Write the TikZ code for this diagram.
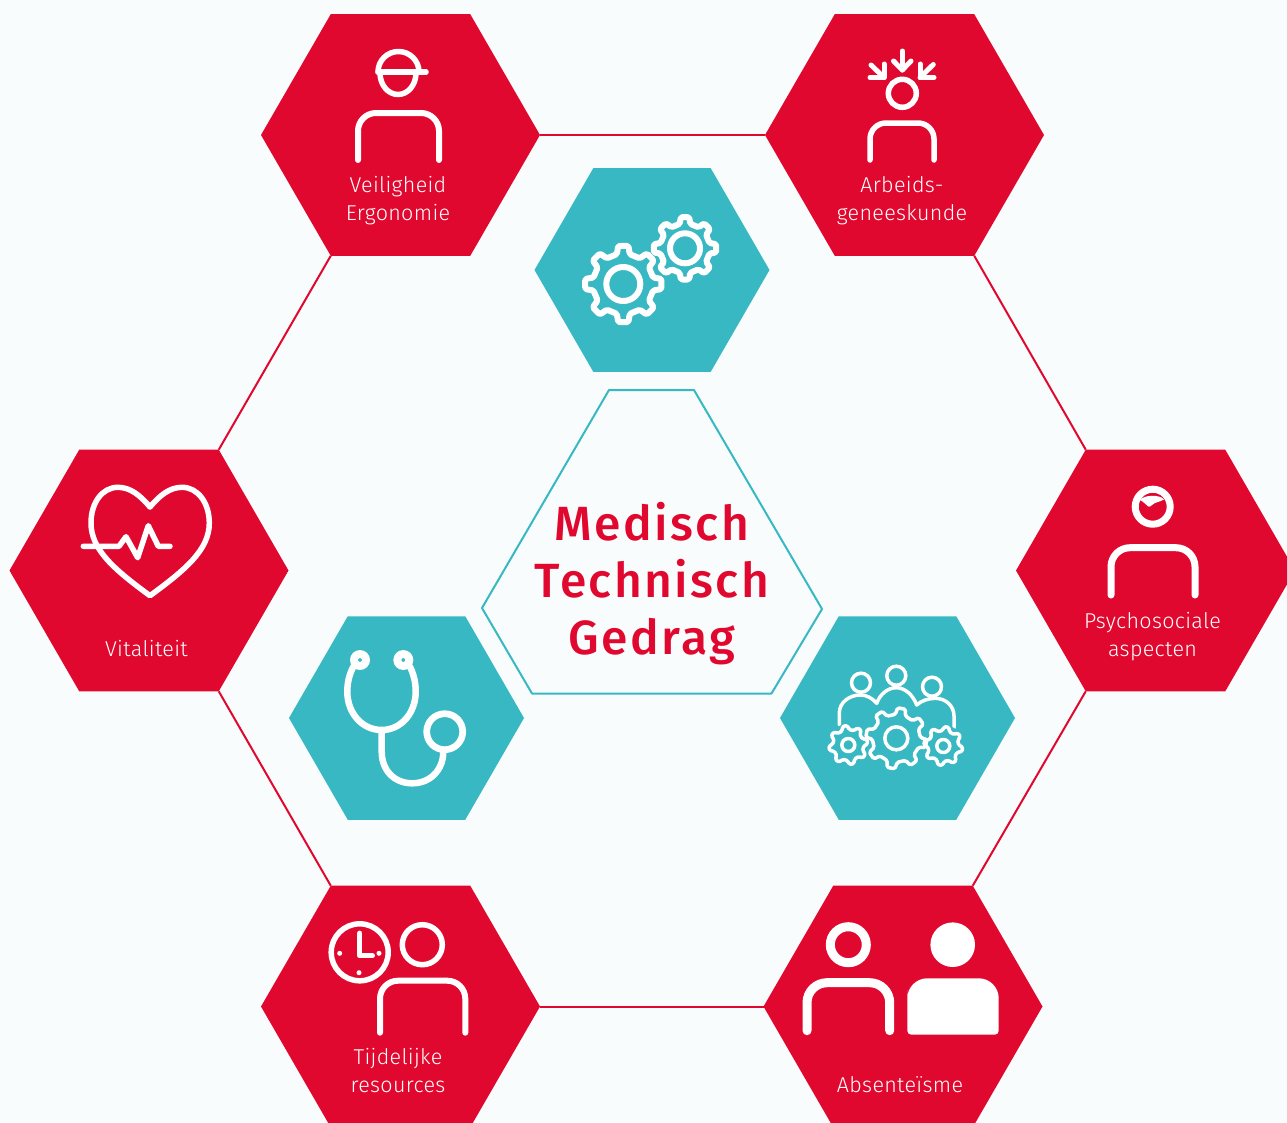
\documentclass[tikz,border=0pt]{standalone}
\usepackage{fontspec}
\setmainfont{Fira Sans}[UprightFont={* Light},LetterSpace=1.5]
\newfontfamily\ttlfont{Fira Sans}[UprightFont={* Medium},LetterSpace=5]
\usetikzlibrary{shapes.geometric}
\definecolor{bgc}{HTML}{F8FCFD}
\definecolor{redc}{HTML}{E1082F}
\definecolor{tealc}{HTML}{38B8C2}
\tikzset{
  hexa/.style={regular polygon,regular polygon sides=6,inner sep=0pt,outer sep=0pt,draw=none},
  redhex/.style={hexa,fill=redc,minimum size=279pt},
  tealhex/.style={hexa,fill=tealc,minimum size=235pt},
  link/.style={draw=redc,line width=2pt},
  ic/.style={draw=white,line cap=round,line join=round,line width=#1pt},
  ic/.default=5,
  lab/.style={text=white,font=\fontsize{21.5}{28}\selectfont,align=center,inner sep=0pt},
  title/.style={text=redc,font=\ttlfont\fontsize{48}{57.2}\selectfont,align=center,inner sep=0pt}
}
\newcommand{\torso}[6]{% x1 x2 top bottom radius lw
  \draw[ic=#6] (#1,#4) [rounded corners=#5pt] -- (#1,#3) -- (#2,#3) [sharp corners] -- (#2,#4);}
\newcommand{\cogwheel}[8]{% cx cy Ro Ri n hole lw rot
  \begin{scope}[shift={(#1,#2)}]
    \pgfmathsetmacro{\st}{360/#5}
    \draw[ic=#7,rounded corners=1.6pt]
      \foreach \i in {1,...,#5}{
        \ifnum\i=1 (#8+\i*\st-0.27*\st:#4pt) \else -- (#8+\i*\st-0.27*\st:#4pt) \fi
        -- (#8+\i*\st-0.17*\st:#3pt) -- (#8+\i*\st+0.17*\st:#3pt) -- (#8+\i*\st+0.27*\st:#4pt)
      } -- cycle;
    \draw[ic=#7] (0,0) circle[radius=#6pt];
  \end{scope}}
\begin{document}
\begin{tikzpicture}[x=1pt,y=-1pt]
\path[use as bounding box,fill=bgc] (0,0) rectangle (1287,1122);
\clip (0,0) rectangle (1287,1122);
% hexagons
\node[redhex] (vei) at (400.5,135) {};
\node[redhex] (arb) at (904.5,135) {};
\node[redhex] (vit) at (149,570.5) {};
\node[redhex] (psy) at (1155.5,570.5) {};
\node[redhex] (tij) at (400.5,1006.5) {};
\node[redhex] (abs) at (903,1006.5) {};
\node[tealhex] (gea) at (652,270) {};
\node[tealhex] (ste) at (406.5,718) {};
\node[tealhex] (peo) at (897.5,718) {};
% connectors
\draw[link] (vei.corner 6) -- (arb.corner 3);
\draw[link] (vei.corner 4) -- (vit.corner 1);
\draw[link] (vit.corner 5) -- (tij.corner 2);
\draw[link] (tij.corner 6) -- (abs.corner 3);
\draw[link] (abs.corner 1) -- (psy.corner 4);
\draw[link] (psy.corner 2) -- (arb.corner 5);
% centre
\draw[tealc,line width=2pt,line join=round] (609,390) -- (694,390) -- (822,609) -- (771.5,693.5) -- (532,693.5) -- (482,608) -- cycle;
\node[title] (ttl) at (652,583.5) {Medisch\\Technisch\\Gedrag};
% labels
\node[lab] (l1) at (398,201) {Veiligheid\\Ergonomie};
\node[lab] (l2) at (902,201) {Arbeids-\\geneeskunde};
\node[lab] (l3) at (146.5,649) {Vitaliteit};
\node[lab] (l4) at (1152.5,636.5) {Psychosociale\\aspecten};
\node[lab] (l5) at (398,1070.5) {Tijdelijke\\resources};
\node[lab] (l6) at (900,1085) {Absenteïsme};
% icon: helmet
\draw[ic=5.5] (378,72) arc[start angle=180,end angle=0,radius=20.5pt];
\draw[ic=5.5] (378,72) -- (426,72);
\draw[ic=5.5] (380,73) arc[start angle=180,end angle=360,x radius=18pt,y radius=21.5pt];
\torso{358}{439}{113}{160}{18}{6}
% icon: arrows
\draw[ic=5.5] (902.3,93.3) circle[radius=14pt];
\torso{870}{934}{123}{160}{16}{5.5}
\draw[ic=5] (902.3,51) -- (902.3,70);
\draw[ic=5] (893.5,61) -- (902.3,70) -- (911,61);
\draw[ic=5] (871,65) -- (884,77.5);
\draw[ic=5] (884,64) -- (884,77.5) -- (870,77.5);
\draw[ic=5] (933.3,64.5) -- (920,77.5);
\draw[ic=5] (920,64) -- (920,77.5) -- (934,77.5);
% icon: heart
\draw[ic=5.5] (150,507) .. controls (140,495) and (130,487.3) .. (118,487.3)
  .. controls (102,487.3) and (91,503) .. (91,523)
  .. controls (91,550) and (115,570) .. (150,595.7)
  .. controls (185,570) and (209.3,550) .. (209.3,523)
  .. controls (209.3,503) and (198,487.3) .. (182,487.3)
  .. controls (170,487.3) and (160,495) .. (150,507);
\draw[ic=5.5] (83.3,546.3) -- (119,546.3) -- (126,536.7) -- (137.7,557.7) -- (148.3,525.7) -- (158.3,546.3) -- (170,546.3);
% icon: brain person
\draw[ic=7] (1152.7,506.7) circle[radius=17.5pt];
\fill[white] (1140,500) .. controls (1143,495) and (1160,494) .. (1164,499.5) .. controls (1160,502) and (1155,502) .. (1152,505) .. controls (1150,507.5) and (1148,507) .. (1146,504.5) .. controls (1144,502) and (1142,501.5) .. (1140,500) -- cycle;
\torso{1111}{1195}{547.7}{595}{19}{7}
% icon: clock person
\draw[ic=5.5] (359.7,952.3) circle[radius=28.5pt];
\draw[ic=5.5] (359.7,933.3) -- (359.7,955.7) -- (372.3,955.7);
\fill[white] (339.7,953.3) circle[radius=2.5pt] (379,953.3) circle[radius=2.5pt] (359,972.7) circle[radius=2.5pt];
\draw[ic=5.5] (422.3,944.7) circle[radius=20pt];
\torso{380}{465.3}{980.7}{1032.7}{18}{6}
% icon: two persons
\draw[ic=9] (848.3,944.7) circle[radius=18pt];
\torso{807}{889.7}{982.7}{1030.7}{20}{9}
\fill[white] (952.7,944.7) circle[radius=22.3pt];
\fill[white,rounded corners=4pt] (907.3,1034.7) -- (998.7,1034.7) -- (998.7,1010) [rounded corners=20pt] -- (998.7,978.3) -- (907.3,978.3) -- (907.3,1010) [rounded corners=4pt] -- cycle;
% icon: gears
\cogwheel{623.3}{284}{38.5}{30.5}{8}{17}{6}{0}
\cogwheel{685}{248.3}{31.5}{25}{8}{15}{6}{0}
% icon: stethoscope
\draw[ic=6.5] (353.3,666.7) .. controls (349,675) and (347.3,683) .. (347.3,691.7)
  .. controls (347.3,713) and (362,730) .. (381.7,730)
  .. controls (401,730) and (415.7,713) .. (415.7,691.7)
  .. controls (415.7,683) and (414,675) .. (410,666.7);
\draw[ic=6.5] (381.7,730) -- (381.7,751.7) .. controls (381.7,770) and (394,783.3) .. (412.3,783.3)
  .. controls (430,783.3) and (443.3,770) .. (443.3,751.7);
\draw[ic=6.7] (444.7,731.7) circle[radius=18pt];
\fill[white,even odd rule] (360,660) circle[radius=10pt] (360,660) circle[radius=2pt];
\fill[white,even odd rule] (403.3,660) circle[radius=10pt] (403.3,660) circle[radius=2pt];
% icon: people with gears
\draw[ic=3.5] (861,682.7) circle[radius=9.5pt];
\draw[ic=3.5] (896.3,675.7) circle[radius=9.5pt];
\draw[ic=3.5] (932,686.7) circle[radius=9.5pt];
\draw[ic=3.5] (839.3,725) -- (839.3,713) .. controls (839.3,702) and (850,695) .. (860,695) .. controls (867,695) and (872,698) .. (876.7,703.3)
  .. controls (880,694) and (888,687.7) .. (896.3,687.7) .. controls (905,687.7) and (913,695) .. (916.7,705)
  .. controls (921,701) and (928,698.3) .. (935,698.3) .. controls (946,698.3) and (954,706) .. (954,716) -- (954,728);
\fill[tealc] (896.3,738.3) circle[radius=32pt] (848.3,745) circle[radius=21pt] (943.3,746) circle[radius=21pt];
\cogwheel{896.3}{738.3}{30.5}{24}{8}{11.5}{3.5}{-10}
\cogwheel{848.3}{745}{19.5}{15.5}{8}{6.5}{3.5}{10}
\cogwheel{943.3}{746}{19.5}{15.5}{8}{6.5}{3.5}{-10}
\end{tikzpicture}
\end{document}
